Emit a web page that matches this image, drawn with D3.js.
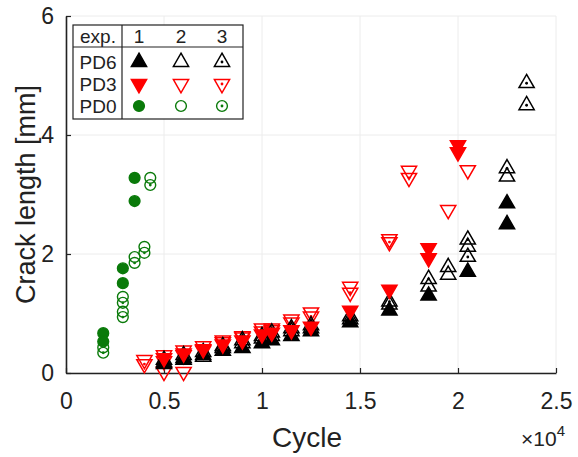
<!DOCTYPE html>
<html><head><meta charset="utf-8">
<script src="https://cdn.jsdelivr.net/npm/d3@7"></script>
<style>body{margin:0;background:#fff}svg{display:block}text{font-family:"Liberation Sans",Arial,sans-serif}</style>
</head><body>
<svg id="c" width="578" height="457"></svg>
<script>
const xTicks=[0,0.5,1,1.5,2,2.5];
const xTickLabels=["0","0.5","1","1.5","2","2.5"];
const yTicks=[0,2,4,6];
// cycle in units of 1e4, crack length in mm
const pd6exp1=[[0.5,0.15],[0.6,0.22],[0.7,0.3],[0.8,0.37],[0.9,0.42],[1.0,0.5],[1.05,0.55],[1.15,0.62],[1.25,0.7],[1.45,0.85],[1.65,1.05],[1.85,1.3],[2.05,1.7],[2.25,2.5],[2.25,2.85]];
const pd6exp2=[[0.5,0.22],[0.6,0.3],[0.7,0.27],[0.8,0.42],[0.9,0.5],[1.0,0.58],[1.05,0.62],[1.15,0.7],[1.25,0.75],[1.45,0.95],[1.65,1.15],[1.85,1.45],[1.95,1.65],[1.95,1.78],[2.05,2.12],[2.25,3.3]];
const pd6exp3=[[0.5,0.18],[0.6,0.25],[0.7,0.35],[0.8,0.45],[0.9,0.55],[1.0,0.62],[1.05,0.68],[1.15,0.75],[1.25,0.8],[1.45,0.9],[1.65,1.2],[1.85,1.58],[2.05,1.95],[2.05,2.24],[2.25,3.44],[2.35,4.5],[2.35,4.87]];
const pd3exp1=[[0.5,0.25],[0.6,0.33],[0.7,0.4],[0.8,0.48],[0.9,0.55],[1.0,0.65],[1.05,0.68],[1.15,0.72],[1.25,0.78],[1.45,1.05],[1.65,1.4],[1.85,1.93],[1.85,2.1],[2.0,3.71],[2.0,3.83]];
const pd3exp2=[[0.4,0.22],[0.5,0.02],[0.6,0.02],[0.5,0.3],[0.6,0.38],[0.7,0.45],[0.8,0.55],[0.9,0.62],[1.0,0.75],[1.05,0.75],[1.15,0.9],[1.25,1.02],[1.45,1.45],[1.65,2.25],[1.75,3.4],[1.95,2.74],[2.05,3.41]];
const pd3exp3=[[0.4,0.15],[0.5,0.2],[0.6,0.3],[0.7,0.38],[0.8,0.52],[0.9,0.6],[1.0,0.7],[1.05,0.72],[1.15,0.85],[1.25,0.95],[1.45,1.35],[1.65,2.2],[1.75,3.28]];
const pd0exp1=[[0.19,0.67],[0.19,0.53],[0.29,1.76],[0.29,1.51],[0.35,3.28],[0.35,2.89]];
const pd0exp2=[[0.19,0.43],[0.29,1.28],[0.29,1.03],[0.35,1.95],[0.40,2.12],[0.43,3.28]];
const pd0exp3=[[0.19,0.34],[0.29,1.18],[0.29,0.94],[0.35,1.85],[0.40,2.02],[0.43,3.16]];

const black="#000", red="#ff0000", green="#0a7a0a";
const series=[
 {data:pd3exp2,shape:"down",color:red,fill:false,dot:false},
 {data:pd3exp3,shape:"down",color:red,fill:false,dot:true},
 {data:pd6exp2,shape:"up",color:black,fill:false,dot:false},
 {data:pd6exp3,shape:"up",color:black,fill:false,dot:true},
 {data:pd6exp1,shape:"up",color:black,fill:true,dot:false},
 {data:pd3exp1,shape:"down",color:red,fill:true,dot:false},
 {data:pd0exp2,shape:"circle",color:green,fill:false,dot:false},
 {data:pd0exp3,shape:"circle",color:green,fill:false,dot:true},
 {data:pd0exp1,shape:"circle",color:green,fill:true,dot:false}
];

const svg=d3.select("#c");
const x=d3.scaleLinear().domain([0,2.5]).range([66,556]);
const y=d3.scaleLinear().domain([0,6]).range([373,16]);

// grid
const g=svg.append("g");
g.selectAll("line.gx").data(xTicks).join("line").attr("x1",d=>x(d)).attr("x2",d=>x(d)).attr("y1",y(0)).attr("y2",y(6)).attr("stroke","#ececec").attr("stroke-width",1);
g.selectAll("line.gy").data(yTicks).join("line").attr("x1",x(0)).attr("x2",x(2.5)).attr("y1",d=>y(d)).attr("y2",d=>y(d)).attr("stroke","#ececec").attr("stroke-width",1);

// axes
const xa=svg.append("g").attr("transform",`translate(0,${y(0)})`)
 .call(d3.axisBottom(x).tickValues(xTicks).tickFormat((d,i)=>xTickLabels[i]).tickSizeInner(-5).tickSizeOuter(0).tickPadding(20));
const ya=svg.append("g").attr("transform",`translate(${x(0)},0)`)
 .call(d3.axisLeft(y).tickValues(yTicks).tickFormat(d3.format("d")).tickSizeInner(-5).tickSizeOuter(0).tickPadding(12));
[xa,ya].forEach(a=>{a.select(".domain").attr("stroke","#222").attr("stroke-width",1.6);a.selectAll(".tick line").attr("stroke","#222").attr("stroke-width",1.2);a.selectAll("text").attr("font-size",23).attr("fill","#222").attr("font-family","Liberation Sans, Arial, sans-serif");});
xa.selectAll("text").attr("dy","0.71em");

svg.append("text").attr("x",307).attr("y",447).attr("text-anchor","middle").attr("font-size",28).attr("fill","#222").text("Cycle");
svg.append("text").attr("transform",`translate(35,${y(3)}) rotate(-90)`).attr("text-anchor","middle").attr("font-size",27).attr("fill","#222").text("Crack length [mm]");
const e=svg.append("text").attr("x",521).attr("y",446).attr("font-size",21).attr("fill","#222");
e.append("tspan").text("\u00d710");
e.append("tspan").attr("dy",-10).attr("font-size",15).text("4");

const triUp=d3.symbol().type(d3.symbolTriangle).size(100);
function drawMarker(sel,s,px,py){
  if(s.shape==="circle"){
    sel.append("circle").attr("cx",px).attr("cy",py).attr("r",5.4)
      .attr("fill",s.fill?s.color:"none").attr("stroke",s.color).attr("stroke-width",1.4);
  } else {
    const rot=s.shape==="down"?180:0;
    sel.append("path").attr("d",triUp()).attr("transform",`translate(${px},${py}) rotate(${rot})`)
      .attr("fill",s.fill?s.color:"none").attr("stroke",s.color).attr("stroke-width",1.5).attr("stroke-linejoin","miter");
  }
  if(s.dot){
    sel.append("circle").attr("cx",px).attr("cy",py).attr("r",1.4).attr("fill",s.color);
  }
}
const mg=svg.append("g");
series.forEach(s=>{
  s.data.forEach(d=>drawMarker(mg,s,x(d[0]),y(d[1])));
});

// legend table
const L=svg.append("g");
L.append("rect").attr("x",73).attr("y",25).attr("width",170).attr("height",94).attr("fill","#fff").attr("stroke","#222").attr("stroke-width",1.2);
L.append("line").attr("x1",73).attr("x2",243).attr("y1",47).attr("y2",47).attr("stroke","#222").attr("stroke-width",1.2);
L.append("line").attr("x1",122).attr("x2",122).attr("y1",25).attr("y2",119).attr("stroke","#222").attr("stroke-width",1.2);
const colX=[139,181,222];
const rowsY=[62,84,106];
const rowNames=["PD6","PD3","PD0"];
const headers=["1","2","3"];
L.append("text").attr("x",98).attr("y",43).attr("text-anchor","middle").attr("font-size",19).attr("fill","#222").text("exp.");
headers.forEach((h,i)=>L.append("text").attr("x",colX[i]).attr("y",43).attr("text-anchor","middle").attr("font-size",19).attr("fill","#222").text(h));
rowNames.forEach((r,i)=>L.append("text").attr("x",98).attr("y",rowsY[i]+7).attr("text-anchor","middle").attr("font-size",19).attr("fill","#222").text(r));
const legendSeries=[
 [{shape:"up",color:black,fill:true},{shape:"up",color:black,fill:false},{shape:"up",color:black,fill:false,dot:true}],
 [{shape:"down",color:red,fill:true},{shape:"down",color:red,fill:false},{shape:"down",color:red,fill:false,dot:true}],
 [{shape:"circle",color:green,fill:true},{shape:"circle",color:green,fill:false},{shape:"circle",color:green,fill:false,dot:true}]
];
legendSeries.forEach((row,ri)=>row.forEach((s,ci)=>drawMarker(L,s,colX[ci],rowsY[ri])));
</script>
</body></html>
